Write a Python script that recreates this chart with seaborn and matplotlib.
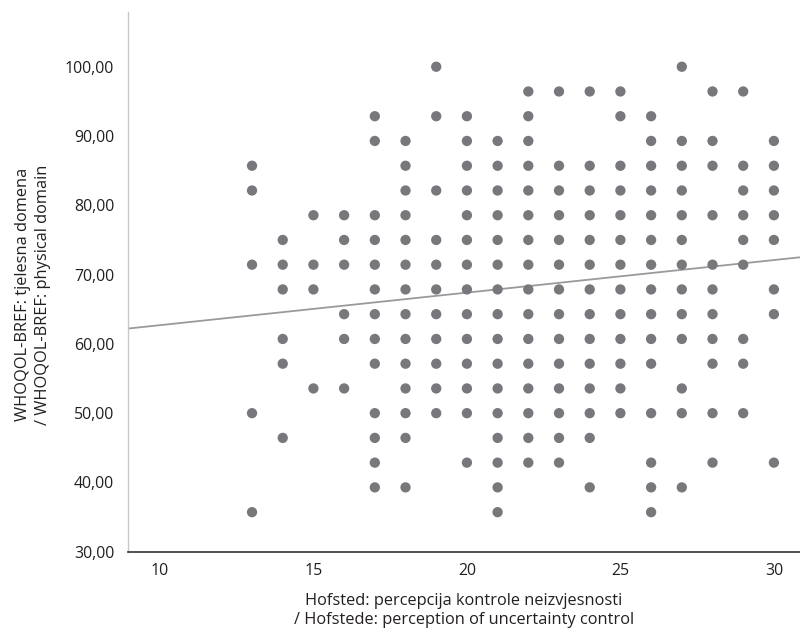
import matplotlib
matplotlib.use("Agg")
import matplotlib.pyplot as plt
import seaborn as sns
import pandas as pd
from matplotlib.ticker import FuncFormatter

# ---- data ----
x_values = [13, 14, 15, 16, 17, 18, 19, 20, 21, 22, 23, 24, 25, 26, 27, 28, 29, 30]
y13 = [85.71, 82.14, 71.43, 50.00, 35.71]
y14 = [75.00, 71.43, 67.86, 60.71, 57.14, 46.43]
y15 = [78.57, 71.43, 67.86, 53.57]
y16 = [78.57, 75.00, 71.43, 64.29, 60.71, 53.57]
y17 = [92.86, 89.29, 78.57, 75.00, 71.43, 67.86, 64.29, 60.71, 57.14, 50.00, 46.43, 42.86, 39.29]
y18 = [89.29, 85.71, 82.14, 78.57, 75.00, 71.43, 67.86, 64.29, 60.71, 57.14, 53.57, 50.00, 46.43, 39.29]
y19 = [100.00, 92.86, 82.14, 75.00, 71.43, 67.86, 64.29, 60.71, 57.14, 53.57, 50.00]
y20 = [92.86, 89.29, 85.71, 82.14, 78.57, 75.00, 71.43, 67.86, 64.29, 60.71, 57.14, 53.57, 50.00, 42.86]
y21 = [89.29, 85.71, 82.14, 78.57, 75.00, 71.43, 67.86, 64.29, 60.71, 57.14, 53.57, 50.00, 46.43, 42.86, 39.29, 35.71]
y22 = [96.43, 92.86, 89.29, 85.71, 82.14, 78.57, 75.00, 71.43, 67.86, 64.29, 60.71, 57.14, 53.57, 50.00, 46.43, 42.86]
y23 = [96.43, 85.71, 82.14, 78.57, 75.00, 71.43, 67.86, 64.29, 60.71, 57.14, 53.57, 50.00, 46.43, 42.86]
y24 = [96.43, 85.71, 82.14, 78.57, 75.00, 71.43, 67.86, 64.29, 60.71, 57.14, 53.57, 50.00, 46.43, 39.29]
y25 = [96.43, 92.86, 85.71, 82.14, 78.57, 75.00, 71.43, 67.86, 64.29, 60.71, 57.14, 53.57, 50.00]
y26 = [92.86, 89.29, 85.71, 82.14, 78.57, 75.00, 71.43, 67.86, 64.29, 60.71, 57.14, 50.00, 42.86, 39.29, 35.71]
y27 = [100.00, 89.29, 85.71, 82.14, 78.57, 75.00, 71.43, 67.86, 64.29, 60.71, 53.57, 50.00, 39.29]
y28 = [96.43, 89.29, 85.71, 78.57, 71.43, 67.86, 64.29, 60.71, 57.14, 50.00, 42.86]
y29 = [96.43, 85.71, 82.14, 78.57, 75.00, 71.43, 60.71, 57.14, 50.00]
y30 = [89.29, 85.71, 82.14, 78.57, 75.00, 67.86, 64.29, 42.86]
y_columns = [y13, y14, y15, y16, y17, y18, y19, y20, y21, y22, y23, y24, y25,
             y26, y27, y28, y29, y30]

# fitted linear regression line
fit_intercept = 58.0
fit_slope = 0.47

x_ticks = [10, 15, 20, 25, 30]
y_ticks = [30, 40, 50, 60, 70, 80, 90, 100]
x_label = "Hofsted: percepcija kontrole neizvjesnosti\n/ Hofstede: perception of uncertainty control"
y_label = "WHOQOL-BREF: tjelesna domena\n/ WHOQOL-BREF: physical domain"

rows = []
for xv, ys in zip(x_values, y_columns):
    for yv in ys:
        rows.append((xv, yv))
df = pd.DataFrame(rows, columns=["x", "y"])

# ---- figure ----
sns.set_theme(style="white")
plt.rcParams["font.family"] = ["Open Sans", "DejaVu Sans"]

fig = plt.figure(figsize=(8.0, 6.32), dpi=100)
ax = fig.add_axes([0.16, 0.127, 0.84, 0.854])

dot_color = "#77787b"
sns.scatterplot(data=df, x="x", y="y", ax=ax, color=dot_color, s=55,
                linewidth=0, edgecolor="none", zorder=3)

ax.axline((0, fit_intercept), slope=fit_slope, color="#9a9a9a", lw=1.3, zorder=2)

ax.set_xlim(8.96, 30.85)
ax.set_ylim(30, 107.9)
ax.set_xticks(x_ticks)
ax.set_yticks(y_ticks)
ax.yaxis.set_major_formatter(FuncFormatter(lambda v, p: f"{v:.2f}".replace(".", ",")))

ax.tick_params(axis="both", length=0, labelsize=11.4, colors="#231f20")
ax.tick_params(axis="y", pad=10)
ax.tick_params(axis="x", pad=8)

for side in ["top", "right"]:
    ax.spines[side].set_visible(False)
ax.spines["left"].set_color("#c8c8c8")
ax.spines["left"].set_linewidth(1.0)
ax.spines["bottom"].set_color("#333333")
ax.spines["bottom"].set_linewidth(1.2)

ax.set_xlabel(x_label, fontsize=11.8, color="#231f20", labelpad=10, linespacing=1.3)
ax.set_ylabel(y_label, fontsize=11.8, color="#231f20", linespacing=1.3)
ax.yaxis.set_label_coords(-0.115, 0.476)

fig.savefig("out.png", dpi=100)
